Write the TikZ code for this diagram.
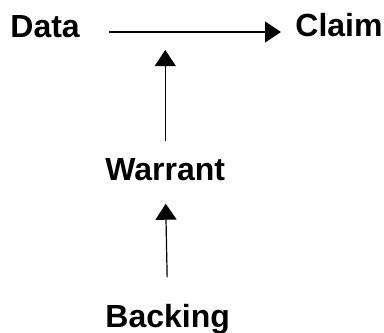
\documentclass[tikz,border=0pt]{standalone}
\usepackage{fontspec}
\setmainfont{Liberation Sans}
\usetikzlibrary{arrows.meta}
\begin{document}
\begin{tikzpicture}[x=0.5pt,y=-0.5pt,
	lbl/.style={inner sep=0pt, anchor=base west, font=\fontsize{16}{19}\selectfont\bfseries},
	arr/.style={line width=0.6pt, -{Triangle[length=8pt,width=10.5pt]}}]
	\useasboundingbox (0,0) rectangle (384,332);
	\node[lbl] (data) at (10,37) {Data};
	\node[lbl] (claim) at (295,36) {Claim};
	\node[lbl] (warrant) at (105,180) {Warrant};
	\node[lbl] (backing) at (105,327) {Backing};
	%
	\path (data.base east) ++(29,-5) coordinate (d0);
	\path (claim.base west) ++(-14,-4) coordinate (c0);
	\draw[arr] (d0) -- (c0);
	%
	\draw[arr, shorten <=8.5pt, shorten >=9pt] (warrant.north) -- (warrant.north |- d0);
	\draw[arr, shorten <=13pt, shorten >=11.5pt] (backing.north) -- (warrant.south);
\end{tikzpicture}
\end{document}
